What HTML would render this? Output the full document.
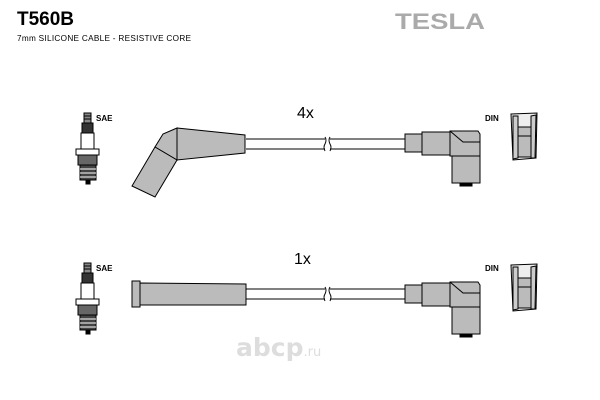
<!DOCTYPE html>
<html><head><style>
html,body{margin:0;padding:0;background:#fff;width:600px;height:400px;overflow:hidden}
svg{display:block}
</style></head><body>
<svg width="600" height="400" viewBox="0 0 600 400" xmlns="http://www.w3.org/2000/svg">
<defs>
<g id="plug" stroke="#000" stroke-width="1">
  <rect x="84" y="113" width="7" height="10" fill="#888"/>
  <line x1="84" y1="116" x2="91" y2="116"/><line x1="84" y1="119" x2="91" y2="119"/>
  <rect x="82" y="123" width="11" height="10" fill="#333"/>
  <rect x="81" y="133" width="13" height="16" fill="#fff"/>
  <rect x="76" y="149" width="23" height="6" fill="#fff"/>
  <rect x="78" y="155" width="19" height="10" fill="#666"/>
  <rect x="80" y="165" width="16" height="15" fill="#444"/>
  <line x1="80" y1="169" x2="96" y2="169" stroke="#fff"/><line x1="80" y1="173" x2="96" y2="173" stroke="#fff"/><line x1="80" y1="177" x2="96" y2="177" stroke="#fff"/>
  <rect x="86" y="180" width="4" height="4" fill="#000"/>
</g>
<g id="rconn" stroke="#000" stroke-width="1">
  <rect x="405" y="134" width="17" height="18" fill="#bbb"/>
  <rect x="422" y="132" width="30" height="23" fill="#bbb"/>
  <path d="M450 131 L478 131 L480 134 L480 156 L450 156 Z" fill="#bbb"/>
  <path d="M450 131 L463 142 L480 142" fill="none"/>
  <rect x="452" y="156" width="28" height="27" fill="#bbb"/>
  <rect x="460" y="183" width="12" height="3" fill="#000"/>
  <path d="M511 114 L537 113 L536 158 L513 160 Z" fill="#eee"/>
  <path d="M513 116 L518 116 L518 158 L513 159 Z" fill="#ccc"/>
  <path d="M531 116 L536 115 L535 158 L531 158 Z" fill="#ccc"/>
  <rect x="518" y="127" width="13" height="30" fill="#bbb"/>
  <line x1="518" y1="136" x2="531" y2="136"/>
</g>
</defs>
<text x="17" y="25" font-family="Liberation Sans,sans-serif" font-weight="bold" font-size="19">T560B</text>
<text x="17" y="41" font-family="Liberation Sans,sans-serif" font-size="8.2" textLength="174">7mm SILICONE CABLE - RESISTIVE CORE</text>
<text x="395" y="29" font-family="Liberation Sans,sans-serif" font-weight="bold" font-size="22" fill="#aaa" textLength="90" lengthAdjust="spacingAndGlyphs">TESLA</text>
<text x="297" y="118" font-family="Liberation Sans,sans-serif" font-size="16">4x</text>
<text x="294" y="264" font-family="Liberation Sans,sans-serif" font-size="16">1x</text>
<g font-family="Liberation Sans,sans-serif" font-weight="bold" font-size="8">
<text x="96" y="121">SAE</text><text x="96" y="271">SAE</text>
<text x="485" y="121">DIN</text><text x="485" y="271">DIN</text>
</g>
<use href="#plug"/>
<use href="#plug" transform="translate(0,150)"/>
<g stroke="#000" stroke-width="1" fill="none">
<path d="M246 139 H325 M330 139 H405 M246 149 H325 M330 149 H405"/>
<path d="M325 137 q2 3 0 7 q-2 3 0 7 M330 137 q-2 3 0 7 q2 3 0 7"/>
<path d="M246 289 H325 M330 289 H405 M246 299 H325 M330 299 H405"/>
<path d="M325 287 q2 3 0 7 q-2 3 0 7 M330 287 q-2 3 0 7 q2 3 0 7"/>
</g>
<g stroke="#000" stroke-width="1" fill="#bbb">
<path d="M177 128 L245 135 L245 153 L177 160 Z"/>
<path d="M177 128 L163 134 L155 147 L177 160 Z"/>
<path d="M155 147 L132 186 L155 197 L177 160 Z"/>
</g>
<g stroke="#000" stroke-width="1" fill="#bbb">
<rect x="132" y="281" width="8" height="26"/>
<path d="M140 283 L246 284 L246 305 L140 305 Z"/>
</g>
<use href="#rconn"/>
<use href="#rconn" transform="translate(0,151)"/>
<text x="236" y="356" font-family="DejaVu Sans,sans-serif" font-weight="bold" font-size="25" fill="#ddd">abcp<tspan font-size="13" font-weight="normal">.ru</tspan></text>
</svg>
</body></html>
